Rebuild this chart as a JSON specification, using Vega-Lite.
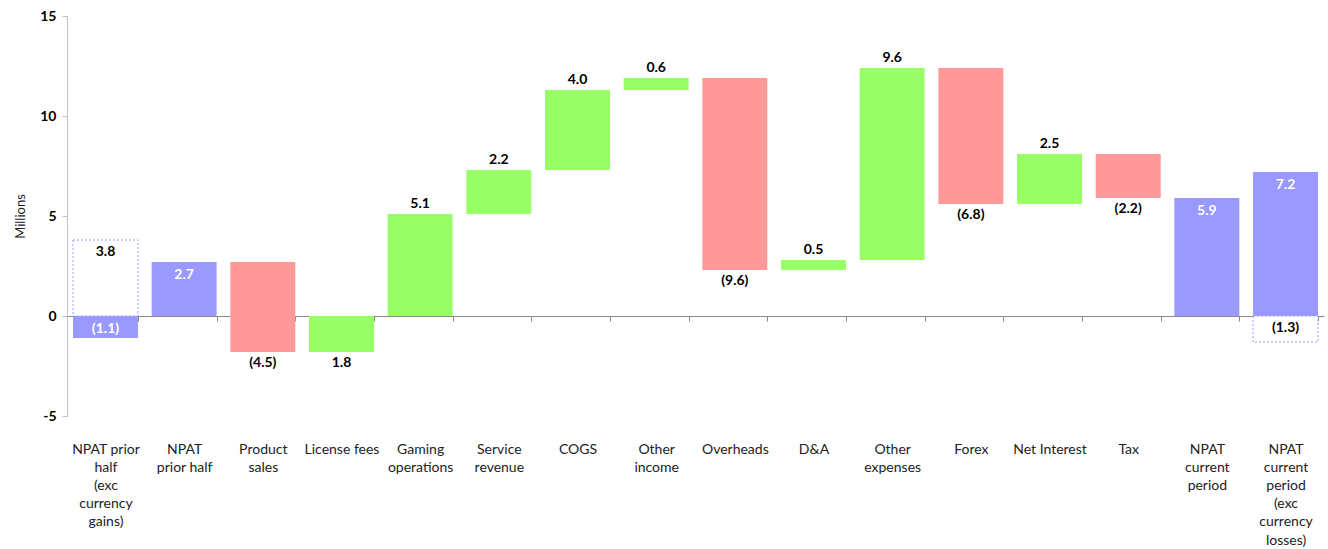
{
  "$schema": "https://vega.github.io/schema/vega-lite/v6.json",
  "width": 1257,
  "height": 400,
  "autosize": {"type": "none"},
  "padding": {"left": 67, "top": 16, "right": 4, "bottom": 133},
  "config": {
    "view": {"stroke": null},
    "font": "Lato",
    "axisY": {
      "grid": false,
      "labelFontWeight": "bold",
      "labelFontSize": 14,
      "labelColor": "#000000",
      "labelPadding": 6,
      "domainColor": "#bfbfbf",
      "tickColor": "#bfbfbf",
      "tickSize": 5,
      "titleFontWeight": "normal",
      "titleFontSize": 13,
      "titleColor": "#222222",
      "titlePadding": 12
    }
  },
  "data": {
    "values": [
      {"cat": "NPAT prior\nhalf\n(exc\ncurrency\ngains)", "start": 0, "end": 3.8, "kind": "box", "label": "3.8"},
      {"cat": "NPAT prior\nhalf\n(exc\ncurrency\ngains)", "start": 0, "end": -1.1, "kind": "total", "label": "(1.1)"},
      {"cat": "NPAT\nprior half", "start": 0, "end": 2.7, "kind": "total", "label": "2.7"},
      {"cat": "Product\nsales", "start": 2.7, "end": -1.8, "kind": "down", "label": "(4.5)"},
      {"cat": "License fees", "start": -1.8, "end": 0, "kind": "up", "label": "1.8"},
      {"cat": "Gaming\noperations", "start": 0, "end": 5.1, "kind": "up", "label": "5.1"},
      {"cat": "Service\nrevenue", "start": 5.1, "end": 7.3, "kind": "up", "label": "2.2"},
      {"cat": "COGS", "start": 7.3, "end": 11.3, "kind": "up", "label": "4.0"},
      {"cat": "Other\nincome", "start": 11.3, "end": 11.9, "kind": "up", "label": "0.6"},
      {"cat": "Overheads", "start": 11.9, "end": 2.3, "kind": "down", "label": "(9.6)"},
      {"cat": "D&A", "start": 2.3, "end": 2.8, "kind": "up", "label": "0.5"},
      {"cat": "Other\nexpenses", "start": 2.8, "end": 12.4, "kind": "up", "label": "9.6"},
      {"cat": "Forex", "start": 12.4, "end": 5.6, "kind": "down", "label": "(6.8)"},
      {"cat": "Net Interest", "start": 5.6, "end": 8.1, "kind": "up", "label": "2.5"},
      {"cat": "Tax", "start": 8.1, "end": 5.9, "kind": "down", "label": "(2.2)"},
      {"cat": "NPAT\ncurrent\nperiod", "start": 0, "end": 5.9, "kind": "total", "label": "5.9"},
      {"cat": "NPAT\ncurrent\nperiod\n(exc\ncurrency\nlosses)", "start": 0, "end": 7.2, "kind": "total", "label": "7.2"},
      {"cat": "NPAT\ncurrent\nperiod\n(exc\ncurrency\nlosses)", "start": 0, "end": -1.3, "kind": "box", "label": "(1.3)"}
    ]
  },
  "transform": [
    {"calculate": "min(datum.start, datum.end)", "as": "lo"},
    {"calculate": "max(datum.start, datum.end)", "as": "hi"}
  ],
  "encoding": {
    "x": {
      "field": "cat",
      "type": "nominal",
      "sort": [
        "NPAT prior\nhalf\n(exc\ncurrency\ngains)",
        "NPAT\nprior half",
        "Product\nsales",
        "License fees",
        "Gaming\noperations",
        "Service\nrevenue",
        "COGS",
        "Other\nincome",
        "Overheads",
        "D&A",
        "Other\nexpenses",
        "Forex",
        "Net Interest",
        "Tax",
        "NPAT\ncurrent\nperiod",
        "NPAT\ncurrent\nperiod\n(exc\ncurrency\nlosses)"
      ],
      "scale": {"paddingInner": 0.174, "paddingOuter": 0.076},
      "axis": {
        "title": null,
        "offset": -100,
        "tickBand": "extent",
        "labelExpr": "split(datum.label, '\\n')",
        "labelBaseline": "top",
        "labelPadding": 121,
        "labelFontSize": 14,
        "labelLineHeight": 18.2,
        "labelColor": "#222222",
        "labelAngle": 0,
        "labelLimit": 0,
        "domainColor": "#888888",
        "tickColor": "#888888",
        "tickSize": 5
      }
    }
  },
  "layer": [
    {
      "transform": [{"filter": "datum.kind == 'box'"}],
      "mark": {"type": "bar", "fill": "#ffffff", "stroke": "#9999FF", "strokeWidth": 1, "strokeDash": [2, 2]},
      "encoding": {
        "y": {"field": "start", "type": "quantitative", "title": "Millions", "scale": {"domain": [-5, 15], "nice": false, "zero": false}, "axis": {"values": [-5, 0, 5, 10, 15], "labelExpr": "toString(datum.value)"}},
        "y2": {"field": "end"}
      }
    },
    {
      "transform": [{"filter": "datum.kind != 'box'"}],
      "mark": {"type": "bar"},
      "encoding": {
        "y": {"field": "start", "type": "quantitative", "title": "Millions", "axis": {"values": [-5, 0, 5, 10, 15], "labelExpr": "toString(datum.value)"}},
        "y2": {"field": "end"},
        "color": {"field": "kind", "type": "nominal", "scale": {"domain": ["total", "up", "down"], "range": ["#9999FF", "#99FF66", "#FF9999"]}, "legend": null}
      }
    },
    {
      "transform": [{"filter": "datum.kind == 'up' && datum.hi > 0"}],
      "mark": {"type": "text", "baseline": "bottom", "dy": -3, "fontWeight": "bold", "fontSize": 14, "color": "#000000"},
      "encoding": {
        "y": {"field": "hi", "type": "quantitative", "title": "Millions", "axis": {"values": [-5, 0, 5, 10, 15], "labelExpr": "toString(datum.value)"}},
        "text": {"field": "label"}
      }
    },
    {
      "transform": [{"filter": "datum.kind == 'down' || (datum.kind == 'up' && datum.hi <= 0)"}],
      "mark": {"type": "text", "baseline": "top", "dy": 4, "fontWeight": "bold", "fontSize": 14, "color": "#000000"},
      "encoding": {
        "y": {"field": "lo", "type": "quantitative", "title": "Millions", "axis": {"values": [-5, 0, 5, 10, 15], "labelExpr": "toString(datum.value)"}},
        "text": {"field": "label"}
      }
    },
    {
      "transform": [{"filter": "datum.kind == 'total'"}],
      "mark": {"type": "text", "baseline": "top", "dy": 6, "fontWeight": "bold", "fontSize": 14, "color": "#ffffff"},
      "encoding": {
        "y": {"field": "hi", "type": "quantitative", "title": "Millions", "axis": {"values": [-5, 0, 5, 10, 15], "labelExpr": "toString(datum.value)"}},
        "text": {"field": "label"}
      }
    },
    {
      "transform": [{"filter": "datum.kind == 'box'"}],
      "mark": {"type": "text", "baseline": "top", "dy": 5, "fontWeight": "bold", "fontSize": 14, "color": "#000000"},
      "encoding": {
        "y": {"field": "hi", "type": "quantitative", "title": "Millions", "axis": {"values": [-5, 0, 5, 10, 15], "labelExpr": "toString(datum.value)"}},
        "text": {"field": "label"}
      }
    }
  ]
}
